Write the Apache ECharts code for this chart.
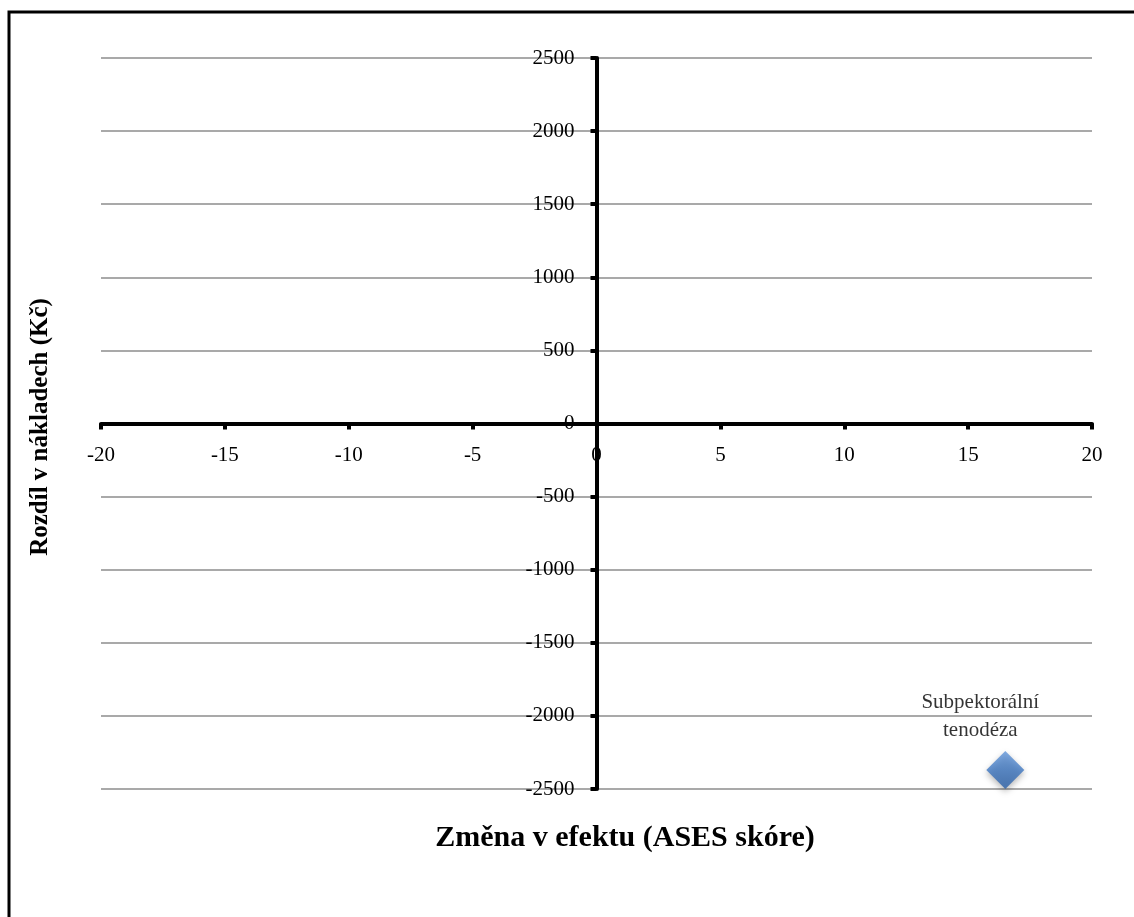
<!DOCTYPE html>
<html>
<head>
<meta charset="utf-8">
<script src="https://cdn.jsdelivr.net/npm/echarts@6/dist/echarts.min.js"></script>
<style>
  html, body { margin: 0; padding: 0; background: #fff; }
  #chart { width: 1134px; height: 917px; }
</style>
</head>
<body>
<div id="chart"></div>
<script>
// Cost-effectiveness plane: effect change vs. cost difference
const pointNames = ['Subpektorální\ntenodéza'];
const effectChange = [16.5];      // ASES score
const costDifference = [-2370];   // Kč

const xTitle = 'Změna v efektu (ASES skóre)';
const yTitle = 'Rozdíl v nákladech (Kč)';

const serif = '"Liberation Serif", "Times New Roman", serif';

// Plot rectangle
const gridLeft = 101, gridRight = 42, gridTop = 58, gridBottom = 128;
const W = 1134, H = 917;
const plotW = W - gridLeft - gridRight;
const plotH = H - gridTop - gridBottom;

const chart = echarts.init(document.getElementById('chart'));

chart.setOption({
  animation: false,
  backgroundColor: '#fff',
  grid: { left: gridLeft, right: gridRight, top: gridTop, bottom: gridBottom },
  xAxis: {
    type: 'value',
    min: -20, max: 20, interval: 5,
    // axes cross at the origin (both ranges are symmetric)
    offset: -plotH / 2,
    axisLine: { onZero: false, lineStyle: { color: '#000', width: 4 } },
    axisTick: { show: true, length: 6, lineStyle: { color: '#000', width: 4 } },
    axisLabel: { color: '#000', fontFamily: serif, fontSize: 21, margin: 21, formatter: v => String(v) },
    splitLine: { show: false }
  },
  yAxis: {
    type: 'value',
    min: -2500, max: 2500, interval: 500,
    offset: -plotW / 2,
    axisLine: { onZero: false, lineStyle: { color: '#000', width: 4 } },
    axisTick: { show: true, length: 6, lineStyle: { color: '#000', width: 4 } },
    axisLabel: { color: '#000', fontFamily: serif, fontSize: 21, margin: 22, formatter: v => String(v) },
    splitLine: { show: true, lineStyle: { color: '#8c8c8c', width: 1.5 } }
  },
  series: [{
    type: 'scatter',
    symbol: 'diamond',
    symbolSize: 38,
    data: effectChange.map((x, i) => ({ value: [x, costDifference[i]], name: pointNames[i] })),
    itemStyle: {
      color: new echarts.graphic.LinearGradient(0, 0, 0, 1, [
        { offset: 0, color: '#6397da' },
        { offset: 0.5, color: '#3f78c2' },
        { offset: 1, color: '#2a5fa6' }
      ]),
      shadowColor: 'rgba(0,0,0,0.35)',
      shadowBlur: 6,
      shadowOffsetY: 3
    },
    label: {
      show: true,
      position: 'top',
      offset: [-25, -2],
      formatter: p => p.name,
      color: '#000',
      fontFamily: serif,
      fontSize: 21,
      lineHeight: 28,
      align: 'center'
    }
  }],
  graphic: [
    {
      type: 'rect',
      shape: { x: 9, y: 12, width: 1200, height: 1000 },
      style: { fill: 'none', stroke: '#000', lineWidth: 3 },
      silent: true
    },
    {
      type: 'text',
      x: 625, y: 838,
      style: { text: xTitle, font: 'bold 30px ' + serif, fill: '#000', align: 'center', verticalAlign: 'middle' }
    },
    {
      type: 'text',
      x: 41, y: 427,
      rotation: Math.PI / 2,
      style: { text: yTitle, font: 'bold 25px ' + serif, fill: '#000', align: 'center', verticalAlign: 'middle' }
    }
  ]
});
</script>
</body>
</html>
